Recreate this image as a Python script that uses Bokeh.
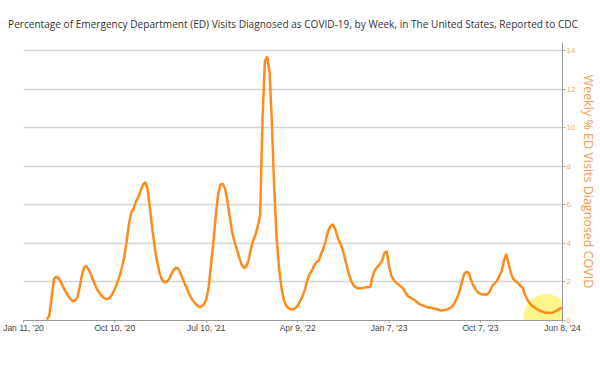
import numpy as np
import pandas as pd
from bokeh.plotting import figure
from bokeh.models import (Range1d, FixedTicker, Label, ColumnDataSource)
from bokeh.embed import file_html
from bokeh.resources import INLINE

# ---- data ----
start_week = "2020-01-11"
tick_dates = ["2020-01-11", "2020-10-10", "2021-07-10", "2022-04-09",
              "2023-01-07", "2023-10-07", "2024-06-08"]
tick_labels = ["Jan 11, '20", "Oct 10, '20", "Jul 10, '21", "Apr 9, '22",
               "Jan 7, '23", "Oct 7, '23", "Jun 8, '24"]
y_ticks = [0, 2, 4, 6, 8, 10, 12, 14]
title_text = ("Percentage of Emergency Department (ED) Visits Diagnosed as "
              "COVID-19, by Week, in The United States, Reported to CDC")
y_label = "Weekly % ED Visits Diagnosed COVID"

pct_2020 = [np.nan] * 10 + [
    0.05, 0.25, 1.2, 2.15, 2.28, 2.2, 1.98, 1.72, 1.5, 1.28,
    1.12, 1.0, 1.02, 1.2, 1.75, 2.4, 2.8, 2.8, 2.6, 2.32,
    2.0, 1.72, 1.5, 1.34, 1.2, 1.13, 1.12, 1.2, 1.4, 1.65,
    1.95, 2.3, 2.75, 3.3, 4.1, 5.0, 5.62, 5.8, 6.2, 6.4,
    6.75, 7.05]
pct_2021 = [
    7.18, 6.8, 5.75, 4.7, 3.8, 3.07, 2.5, 2.15, 1.98, 2.0,
    2.12, 2.38, 2.62, 2.74, 2.7, 2.45, 2.15, 1.87, 1.58, 1.3,
    1.08, 0.93, 0.8, 0.7, 0.72, 0.83, 1.1, 1.7, 2.9, 4.0,
    5.4, 6.5, 7.05, 7.1, 6.85, 6.2, 5.4, 4.6, 4.1, 3.72,
    3.3, 2.92, 2.74, 2.78, 3.1, 3.7, 4.15, 4.45, 4.9, 5.5]
pct_2022 = [
    10.5, 13.45, 13.7, 12.9, 10.2, 6.8, 4.3, 2.8, 1.75, 1.09,
    0.8, 0.65, 0.6, 0.57, 0.64, 0.76, 1.0, 1.25, 1.58, 2.05,
    2.4, 2.57, 2.85, 3.03, 3.1, 3.45, 3.75, 4.15, 4.65, 4.9,
    5.0, 4.75, 4.35, 4.05, 3.75, 3.3, 2.8, 2.35, 2.0, 1.8,
    1.7, 1.66, 1.68, 1.7, 1.72, 1.73, 1.76, 2.3, 2.62, 2.78,
    2.92, 3.1, 3.5]
pct_2023 = [
    3.6, 2.8, 2.3, 2.1, 1.95, 1.87, 1.77, 1.65, 1.46, 1.26,
    1.2, 1.12, 1.05, 0.95, 0.85, 0.8, 0.75, 0.7, 0.68, 0.66,
    0.62, 0.6, 0.56, 0.52, 0.53, 0.55, 0.58, 0.65, 0.74, 0.92,
    1.17, 1.5, 1.95, 2.4, 2.52, 2.47, 2.1, 1.8, 1.6, 1.45,
    1.38, 1.35, 1.36, 1.35, 1.52, 1.78, 1.92, 2.05, 2.3, 2.55,
    3.1, 3.45]
pct_2024 = [
    2.95, 2.45, 2.15, 2.05, 1.95, 1.8, 1.69, 1.35, 1.09, 0.9,
    0.76, 0.68, 0.6, 0.53, 0.48, 0.43, 0.4, 0.4, 0.4, 0.42,
    0.48, 0.55, 0.62, 0.65]
pct_ed_covid = pct_2020 + pct_2021 + pct_2022 + pct_2023 + pct_2024

dates = pd.date_range(start_week, periods=len(pct_ed_covid), freq="7D")
src = ColumnDataSource(dict(date=dates, pct=pct_ed_covid))

ORANGE = "#ff8c1a"
Y_TOP = 14.43

p = figure(width=600, height=360, x_axis_type="datetime",
           output_backend="svg", toolbar_location=None,
           x_range=Range1d(dates[0], dates[-1]), y_range=Range1d(0, Y_TOP),
           y_axis_location="right",
           min_border_left=23, min_border_right=32, min_border_top=42,
           min_border_bottom=40, outline_line_color=None,
           background_fill_color="white", border_fill_color="white")

p.title.text = title_text
p.title.align = "center"
p.title.vertical_align = "top"
p.title.text_font = "Open Sans"
p.title.text_font_size = "10.1px"
p.title.text_font_style = "normal"
p.title.text_color = "#333333"
p.title.standoff = 20
p.title.offset = 4

# x axis
tick_ms = [pd.Timestamp(d).value // 10**6 for d in tick_dates]
xa = p.xaxis[0]
xa.ticker = FixedTicker(ticks=tick_ms)
xa.major_label_overrides = {float(t): lab for t, lab in zip(tick_ms, tick_labels)}
xa.major_label_text_font = "Liberation Sans"
xa.major_label_text_font_size = "8.5px"
xa.major_label_text_color = "#444444"
xa.axis_line_color = "#999999"
xa.major_tick_line_color = "#999999"
xa.major_tick_out = 2
xa.major_tick_in = 0
xa.minor_tick_line_color = None
xa.major_label_standoff = 0

# right y axis
ya = p.yaxis[0]
ya.ticker = FixedTicker(ticks=y_ticks)
ya.axis_label = y_label
ya.axis_label_text_font = "Open Sans"
ya.axis_label_text_font_size = "12.5px"
ya.axis_label_text_font_style = "normal"
ya.axis_label_text_color = "#f99a45"
ya.axis_label_standoff = 2
ya.major_label_text_font = "Liberation Sans"
ya.major_label_text_font_size = "8px"
ya.major_label_text_color = "#fbaa66"
ya.major_label_standoff = 1
ya.axis_line_color = "#999999"
ya.major_tick_line_color = "#aaaaaa"
ya.major_tick_out = 3
ya.major_tick_in = 0
ya.minor_tick_line_color = None

p.xgrid.grid_line_color = None
p.ygrid.ticker = FixedTicker(ticks=y_ticks)
p.ygrid.grid_line_color = "#d4d4d4"
p.ygrid.grid_line_width = 1.3

# yellow highlighter mark around the latest weeks
p.add_layout(Label(x=dates[-8], y=0.2, text=" ", text_font_size="1px",
                   text_align="center", text_baseline="middle",
                   background_fill_color="#fff25a", background_fill_alpha=0.7,
                   padding=22, border_radius=22, level="underlay"))

p.line("date", "pct", source=src, line_color=ORANGE, line_width=2.5)

html = file_html(p, INLINE)
open("out.html", "w").write(html)
